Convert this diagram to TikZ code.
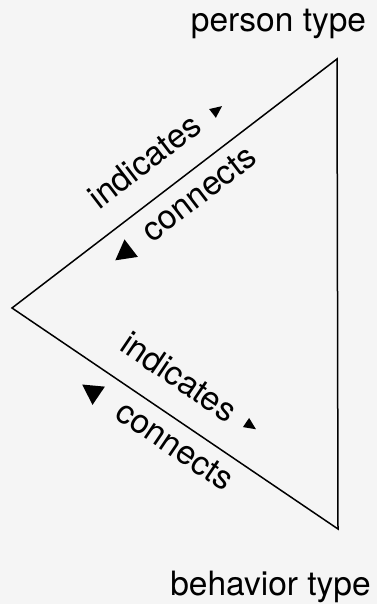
\documentclass[tikz,border=0pt]{standalone}
\usepackage{fontspec}
\setmainfont{TeX Gyre Heros}
\definecolor{bgc}{HTML}{F5F5F5}
\begin{document}
\begin{tikzpicture}[x=1pt,y=1pt,
  lbl/.style={font=\fontsize{33.5}{40}\selectfont, inner sep=0pt, anchor=base},
  elbl/.style={lbl, transform shape},
  edgeline/.style={line width=1.5pt, line join=miter},
  tipfill/.style={fill=black}]
\fill[bgc] (0,0) rectangle (377,604);
\useasboundingbox (0,0) rectangle (377,604);
\coordinate (L) at (12,296);
\coordinate (T) at (337,545);
\coordinate (B) at (338,75);
\draw[edgeline] (L) -- (T) -- (B) -- cycle;
\node[lbl] (person) at (278.5,572) {person type};
\node[lbl] (behavior) at (270.5,9) {behavior type};
\begin{scope}[shift={(L)}, rotate=37.46]
  \node[elbl] (ind1) at (194.5,24.5) {indicates};
  \fill[tipfill] (277.5,27) -- (289.5,32.5) -- (277.5,38) -- cycle;
  \node[elbl] (con1) at (218,-34) {connects};
  \fill[tipfill] (111,-25) -- (131,-36) -- (131,-14) -- cycle;
\end{scope}
\begin{scope}[shift={(L)}, rotate=-34.13]
  \node[elbl] (ind2) at (177,25) {indicates};
  \fill[tipfill] (258,31) -- (270,36.5) -- (258,42) -- cycle;
  \node[elbl] (con2) at (212,-33.5) {connects};
  \fill[tipfill] (101,-24) -- (121,-35) -- (121,-13) -- cycle;
\end{scope}
\end{tikzpicture}
\end{document}
